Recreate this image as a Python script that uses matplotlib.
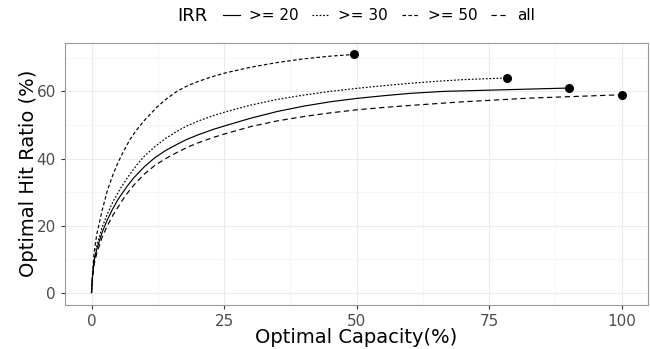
import matplotlib
matplotlib.use('Agg')
import matplotlib.pyplot as plt
from matplotlib.ticker import MultipleLocator
from matplotlib.lines import Line2D

# IRR >= 20 (solid)
x20 = [0, 0.2, 0.5, 1, 2, 3, 4, 5, 6.7, 8, 10, 12, 14, 16.1, 18, 20, 23, 25.5, 30, 35, 40, 45, 50, 55, 60, 66.3, 78, 90]
y20 = [0, 5, 9.5, 13, 18, 21.8, 25, 27.8, 31.7, 34.3, 37.6, 40.3, 42.4, 44.2, 45.7, 47, 48.7, 49.9, 52, 54, 55.6, 56.9, 57.9, 58.7, 59.4, 60, 60.5, 61]
# IRR >= 30 (dotted)
x30 = [0, 0.2, 0.5, 1, 2, 3, 4, 5.5, 7, 8.5, 9.9, 12, 14, 16.1, 18, 20, 23, 25.5, 30, 35, 40, 45, 50, 55, 60, 65, 70, 78.3]
y30 = [0, 5, 10, 14, 19.5, 23.5, 27, 31.2, 34.8, 38, 40.6, 43.6, 46, 48.1, 49.7, 51.1, 52.8, 54, 55.9, 57.6, 58.9, 60, 60.9, 61.7, 62.4, 63, 63.5, 64]
# IRR >= 50 (short dashes)
x50 = [0, 0.2, 0.5, 1, 2, 3, 4, 5, 6, 7.3, 8.5, 10, 12.4, 14, 16.1, 18, 20, 23, 25.5, 30, 35, 40, 45, 49.5]
y50 = [0, 6, 12, 17.5, 24.5, 30.5, 35, 38.8, 42, 45.8, 48.5, 51.4, 55.4, 57.6, 60, 61.6, 62.9, 64.5, 65.6, 67.2, 68.6, 69.7, 70.5, 71]
# all (dashed)
xall = [0, 0.2, 0.5, 1, 2, 3, 4, 5, 6, 7.3, 8.5, 10, 12, 14, 16.1, 18, 20, 23, 25.5, 30, 35, 40, 45, 50, 55, 60, 70, 82.7, 100]
yall = [0, 4.5, 8.5, 11.8, 16.5, 20, 23, 25.5, 28, 30.8, 33, 35.4, 38, 40, 41.8, 43.3, 44.6, 46.3, 47.5, 49.5, 51.2, 52.5, 53.6, 54.5, 55.2, 55.8, 56.9, 58, 59]

labels = ['>= 20', '>= 30', '>= 50', 'all']
styles = ['-', (0, (1.5, 1.5)), (0, (3, 2)), (0, (4.5, 3))]
series = [(x20, y20), (x30, y30), (x50, y50), (xall, yall)]

fig = plt.figure(figsize=(6.5, 3.49), dpi=100)
ax = fig.add_axes([0.1, 0.127, 0.897, 0.751])

lw = 0.85
for (xs, ys), ls in zip(series, styles):
    ax.plot(xs, ys, color='black', linestyle=ls, linewidth=lw)
    ax.scatter([xs[-1]], [ys[-1]], s=30, color='black', zorder=5)

ax.set_xlim(-5, 105)
ax.set_ylim(-3.55, 74.55)
ax.xaxis.set_major_locator(MultipleLocator(25))
ax.xaxis.set_minor_locator(MultipleLocator(12.5))
ax.yaxis.set_major_locator(MultipleLocator(20))
ax.yaxis.set_minor_locator(MultipleLocator(10))
ax.grid(which='major', color='#EBEBEB', linewidth=0.8)
ax.grid(which='minor', color='#F3F3F3', linewidth=0.5)
ax.set_axisbelow(True)
for s in ax.spines.values():
    s.set_color('#999999')
    s.set_linewidth(0.8)
ax.tick_params(which='major', length=3, color='#333333', labelcolor='#4D4D4D', labelsize=11)
ax.tick_params(which='minor', length=0)

ax.set_xlabel('Optimal Capacity(%)', fontsize=14, labelpad=-0.5)
ax.set_ylabel('Optimal Hit Ratio (%)', fontsize=14, labelpad=-1)

handles = [Line2D([], [], color='black', linestyle=ls, linewidth=lw) for ls in styles]
fig.text(177 / 650, 1 - 16 / 349, 'IRR', fontsize=13, va='center', ha='left')
fig.legend(handles, labels, loc='center', bbox_to_anchor=(0.583, 1 - 16 / 349), ncol=4,
           frameon=False, fontsize=11, handlelength=1.1, handletextpad=0.6,
           columnspacing=0.9, borderpad=0)

fig.savefig('out.png', dpi=100)
